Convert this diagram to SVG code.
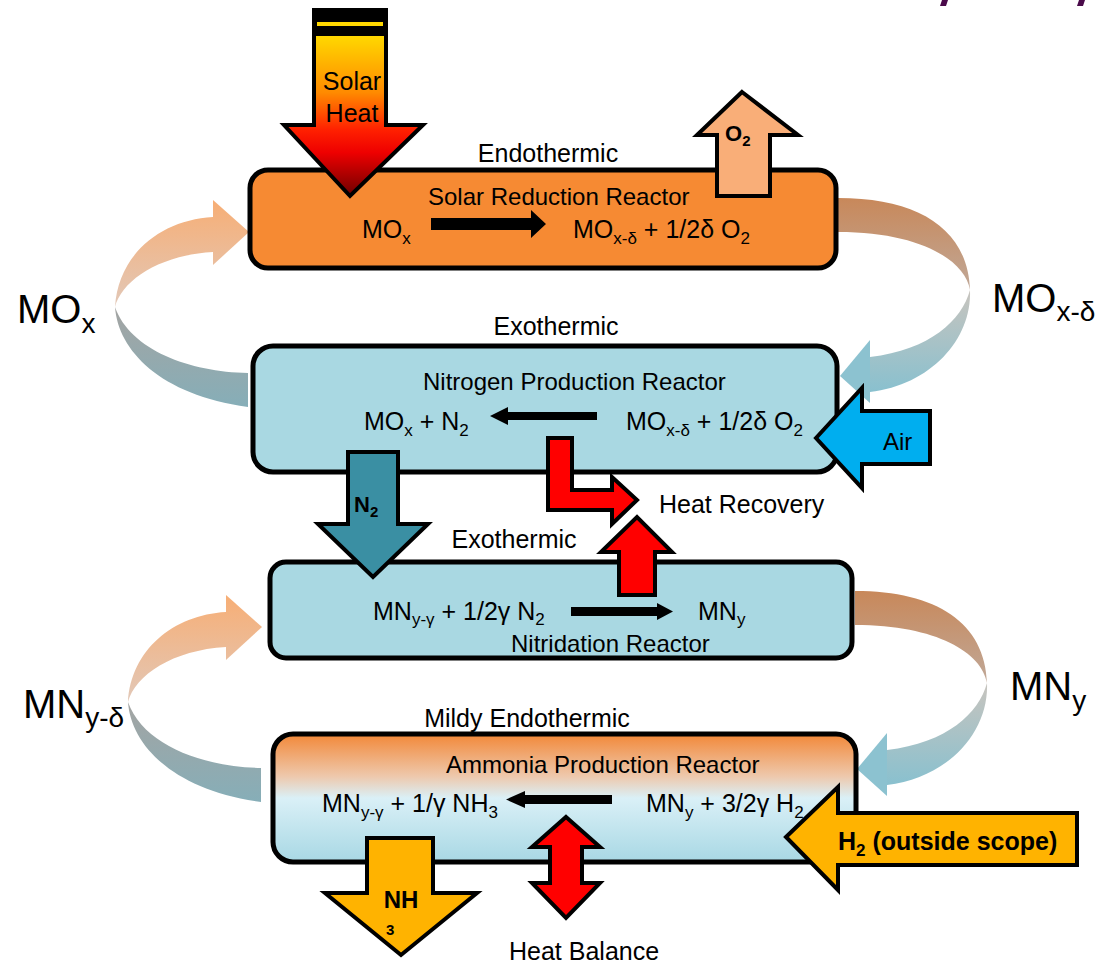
<svg xmlns="http://www.w3.org/2000/svg" width="1099" height="965" viewBox="0 0 1099 965">
<style>
.f{font-family:"Liberation Sans",Arial,sans-serif;fill:#000}
.b{font-weight:bold}
.box{stroke:#000;stroke-width:5}
.blk{stroke:#000;stroke-width:4;stroke-linejoin:miter}
</style>
<defs>
<linearGradient id="gs" gradientUnits="userSpaceOnUse" x1="0" y1="36" x2="0" y2="198">
<stop offset="0" stop-color="#FFD800"/><stop offset="0.35" stop-color="#FF8A00"/><stop offset="0.58" stop-color="#FF2000"/><stop offset="0.72" stop-color="#EE0000"/><stop offset="1" stop-color="#680000"/>
</linearGradient>
<linearGradient id="g4" x1="0" y1="0" x2="0" y2="1">
<stop offset="0" stop-color="#F28838"/><stop offset="0.33" stop-color="#EEC8AC"/><stop offset="0.5" stop-color="#DAF0F7"/><stop offset="1" stop-color="#A8D8E4"/>
</linearGradient>
<linearGradient id="gLu" gradientUnits="userSpaceOnUse" x1="0" y1="200" x2="0" y2="307">
<stop offset="0" stop-color="#F7AE75"/><stop offset="1" stop-color="#E2C8B8"/>
</linearGradient>
<linearGradient id="gLd" gradientUnits="userSpaceOnUse" x1="0" y1="307" x2="0" y2="407">
<stop offset="0" stop-color="#A4A4A2"/><stop offset="1" stop-color="#86AEB8"/>
</linearGradient>
<linearGradient id="gRu" gradientUnits="userSpaceOnUse" x1="0" y1="198" x2="0" y2="290">
<stop offset="0" stop-color="#C8885A"/><stop offset="1" stop-color="#C0A898"/>
</linearGradient>
<linearGradient id="gRd" gradientUnits="userSpaceOnUse" x1="0" y1="290" x2="0" y2="400">
<stop offset="0" stop-color="#C8C4BE"/><stop offset="1" stop-color="#84C0D0"/>
</linearGradient>
</defs>
<rect width="1099" height="965" fill="#fff"/>
<g id="title-fragments" fill="#4A0A4A">
<polygon points="942,0 948,0 946,6 940,6"/>
<polygon points="1079,0 1085,0 1083,6 1077,6"/>
</g>

<g id="connectors">
<g id="arc-mox">
<path d="M213,217 C160,220 118,255 115,307 C122,280 160,255 213,252 Z" fill="url(#gLu)"/>
<polygon points="213,200 249,232 213,265" fill="url(#gLu)"/>
<path d="M115,307 C118,350 160,395 248,407 L248,373 C190,372 130,350 115,307 Z" fill="url(#gLd)"/>
<text class="f" x="17" y="323" font-size="40">MO<tspan font-size="28" dy="10">x</tspan></text>
</g>
<g id="arc-moxd">
<path d="M838,198 C920,198 968,230 970,290 C965,260 920,232 838,232 Z" fill="url(#gRu)"/>
<path d="M970,290 C972,340 930,385 870,392 L870,357 C930,350 962,320 970,290 Z" fill="url(#gRd)"/>
<polygon points="870,340 840,376 870,403" fill="#8CC2D0"/>
<text class="f" x="992" y="312" font-size="40">MO<tspan font-size="28" dy="9">x-δ</tspan></text>
</g>
<g id="arc-mny" transform="translate(13,395)">
<path d="M213,217 C160,220 118,255 115,307 C122,280 160,255 213,252 Z" fill="url(#gLu)"/>
<polygon points="213,200 249,232 213,265" fill="url(#gLu)"/>
<path d="M115,307 C118,350 160,395 248,407 L248,373 C190,372 130,350 115,307 Z" fill="url(#gLd)"/>
</g>
<text class="f" x="23" y="718" font-size="40">MN<tspan font-size="28" dy="9">y-δ</tspan></text>
<g id="arc-mnyr" transform="translate(17,393)">
<path d="M838,198 C920,198 968,230 970,290 C965,260 920,232 838,232 Z" fill="url(#gRu)"/>
<path d="M970,290 C972,340 930,385 870,392 L870,357 C930,350 962,320 970,290 Z" fill="url(#gRd)"/>
<polygon points="870,340 840,376 870,403" fill="#8CC2D0"/>
</g>
<text class="f" x="1010" y="700" font-size="40">MN<tspan font-size="28" dy="10">y</tspan></text>
</g>

<g id="node-solar-reduction">
<rect class="box" x="250" y="170" width="586" height="98" rx="18" fill="#F68A33"/>
<text class="f" x="548" y="162" font-size="25" text-anchor="middle">Endothermic</text>
<text class="f" x="428" y="205" font-size="24">Solar Reduction Reactor</text>
<text class="f" x="362" y="238" font-size="25">MO<tspan font-size="17" dy="6">x</tspan></text>
<polygon points="431,218 531,218 531,210 546,224 531,238 531,230 431,230"/>
<text class="f" x="573" y="238" font-size="25">MO<tspan font-size="17" dy="6">x-δ</tspan><tspan dy="-6"> + 1/2δ O</tspan><tspan font-size="17" dy="6">2</tspan></text>
</g>

<g id="node-nitrogen-production">
<rect class="box" x="253" y="346" width="584" height="126" rx="20" fill="#A9D8E2"/>
<text class="f" x="556" y="335" font-size="25" text-anchor="middle">Exothermic</text>
<text class="f" x="423" y="390" font-size="24">Nitrogen Production Reactor</text>
<text class="f" x="364" y="430" font-size="25">MO<tspan font-size="17" dy="6">x</tspan><tspan dy="-6"> + N</tspan><tspan font-size="17" dy="6">2</tspan></text>
<polygon points="597,412 508,412 508,407 490,416 508,425 508,420 597,420"/>
<text class="f" x="626" y="430" font-size="25">MO<tspan font-size="17" dy="6">x-δ</tspan><tspan dy="-6"> + 1/2δ O</tspan><tspan font-size="17" dy="6">2</tspan></text>
</g>

<g id="node-nitridation">
<rect class="box" x="270" y="562" width="582" height="96" rx="16" fill="#A9D8E2"/>
<text class="f" x="514" y="548" font-size="25" text-anchor="middle">Exothermic</text>
<text class="f" x="373" y="620" font-size="25">MN<tspan font-size="17" dy="5">y-γ</tspan><tspan dy="-5"> + 1/2γ N</tspan><tspan font-size="17" dy="5">2</tspan></text>
<polygon points="571,607 657,607 657,603 673,611.5 657,620 657,616 571,616"/>
<text class="f" x="698" y="620" font-size="25">MN<tspan font-size="17" dy="5">y</tspan></text>
<text class="f" x="511" y="652" font-size="24">Nitridation Reactor</text>
</g>

<g id="node-ammonia-production">
<rect class="box" x="273" y="734" width="583" height="128" rx="20" fill="url(#g4)"/>
<text class="f" x="527" y="727" font-size="25" text-anchor="middle">Mildy Endothermic</text>
<text class="f" x="446" y="773" font-size="24">Ammonia Production Reactor</text>
<text class="f" x="322" y="812" font-size="25">MN<tspan font-size="17" dy="6">y-γ</tspan><tspan dy="-6"> + 1/γ NH</tspan><tspan font-size="17" dy="6">3</tspan></text>
<polygon points="612,795 525,795 525,791 506,799.5 525,808 525,804 612,804"/>
<text class="f" x="646" y="812" font-size="25">MN<tspan font-size="17" dy="6">y</tspan><tspan dy="-6"> + 3/2γ H</tspan><tspan font-size="17" dy="6">2</tspan></text>
</g>

<g id="flow-arrows">
<g id="solar-heat">
<rect x="312" y="8" width="76" height="28" fill="#000"/>
<rect x="317" y="22" width="66" height="4" fill="#FFD800"/>
<polygon class="blk" points="314,34 386,34 386,125 423,125 350,196 284,125 314,125" fill="url(#gs)" stroke-width="5"/>
<text class="f" x="352" y="90" font-size="25" text-anchor="middle">Solar</text>
<text class="f" x="352" y="122" font-size="25" text-anchor="middle">Heat</text>
</g>
<g id="o2-out">
<polygon class="blk" points="742,92 798,135 770,135 770,196 717,196 717,135 697,135" fill="#F9AE78"/>
<text class="f b" x="725" y="141" font-size="22">O<tspan font-size="15" dy="5">2</tspan></text>
</g>
<g id="air-in">
<polygon class="blk" points="816,438 862,388 862,411 930,411 930,464 862,464 862,488" fill="#00AEEF"/>
<text class="f" x="883" y="450" font-size="24">Air</text>
</g>
<g id="n2-flow">
<polygon class="blk" points="348,452 398,452 398,524 428,524 373,577 318,524 348,524" fill="#3A8FA3"/>
<text class="f b" x="354" y="512" font-size="22">N<tspan font-size="15" dy="5">2</tspan></text>
</g>
<g id="heat-recovery">
<polygon class="blk" points="548,438 572,438 572,490 612,490 612,477 637,500 612,524 612,510 548,510" fill="#FF0000"/>
<polygon class="blk" points="619,595 619,552 601,552 637,517 672,552 655,552 655,595" fill="#FF0000"/>
<text class="f" x="659" y="513" font-size="25">Heat Recovery</text>
</g>
<g id="h2-in">
<polygon class="blk" points="786,837 838,787 838,813 1077,813 1077,865 838,865 838,890" fill="#FFB300"/>
<text class="f b" x="838" y="850" font-size="25">H<tspan font-size="17" dy="6">2</tspan><tspan dy="-6"> (outside scope)</tspan></text>
</g>
<g id="nh3-out">
<polygon class="blk" points="367,838 433,838 433,893 477,893 401,955 325,893 367,893" fill="#FFB300"/>
<text class="f b" x="401" y="908" font-size="24" text-anchor="middle">NH</text>
<text class="f b" x="386" y="935" font-size="15">3</text>
</g>
<g id="heat-balance">
<polygon class="blk" points="566,817 600,847 582,847 582,883 600,883 566,918 532,883 550,883 550,847 532,847" fill="#FF0000"/>
<text class="f" x="509" y="960" font-size="25">Heat Balance</text>
</g>
</g>
</svg>
